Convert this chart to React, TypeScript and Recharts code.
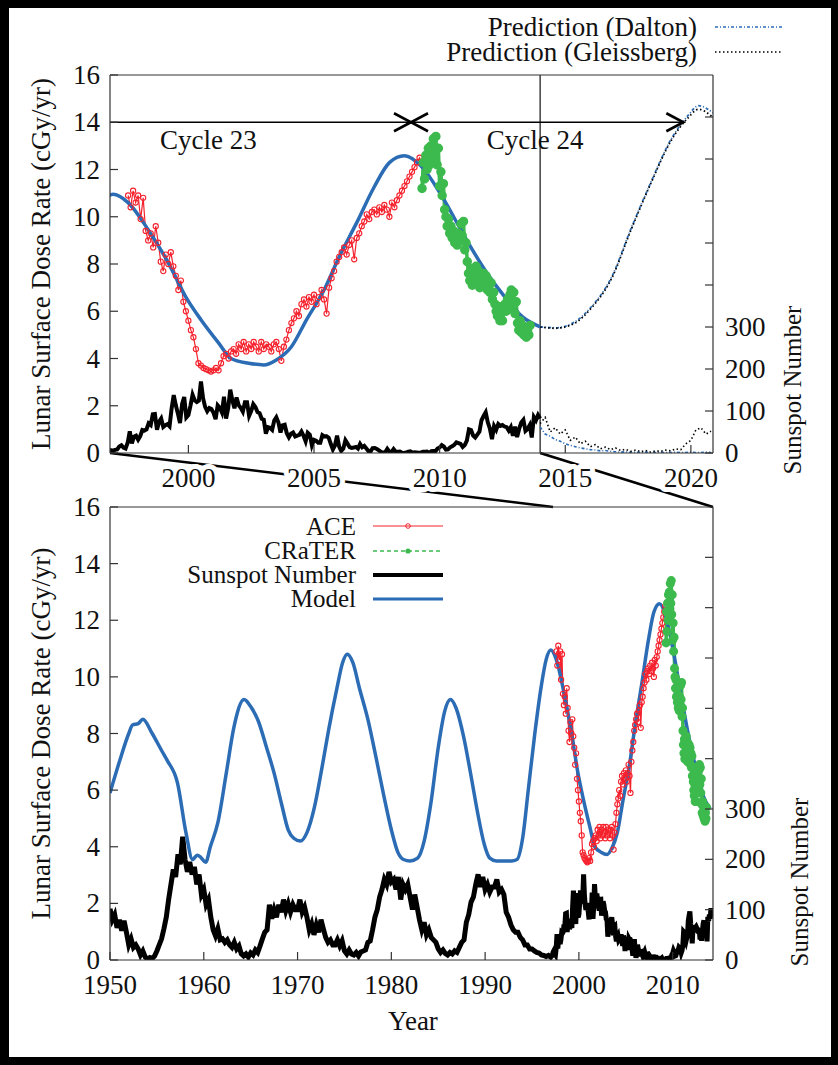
import React from 'react';
import { ComposedChart, Line, Scatter, XAxis, YAxis, ReferenceLine } from 'recharts';

const FONT = '"Liberation Serif", "Times New Roman", serif';
const AXIS = '#333';
const TXT = '#111';
const RED = '#f5222d';
const GREEN = '#3dba4e';
const BLUE = '#2b6cb5';

// sunspot number, quarterly, 1950.00 .. 1996.75
const ssnQuarterlyStart = 1950;
const ssnQuarterly = [
  102, 80, 90, 64, 80, 58, 78, 55, 30, 42, 25, 30, 22, 10, 18, 6, 2, 5, 3, 8,
  18, 30, 42, 62, 85, 120, 150, 180, 165, 210, 190, 245, 200, 175, 195, 170, 185, 150, 170, 130,
  140, 110, 120, 85, 60, 48, 62, 40, 42, 35, 40, 30, 25, 35, 22, 28, 12, 8, 12, 6,
  14, 10, 20, 15, 28, 42, 55, 60, 110, 82, 100, 85, 110, 95, 120, 98, 112, 95, 110, 100,
  100, 120, 95, 105, 85, 60, 72, 50, 70, 55, 80, 62, 45, 35, 40, 30, 30, 40, 28, 38,
  18, 12, 20, 12, 10, 15, 8, 16, 18, 20, 35, 38, 60, 85, 100, 125, 140, 160, 150, 175,
  155, 160, 140, 165, 120, 150, 140, 150, 125, 100, 130, 105, 80, 60, 75, 50, 60, 45, 40, 35,
  22, 15, 20, 13, 10, 15, 12, 18, 15, 25, 35, 40, 75, 90, 115, 125, 150, 170, 145, 165,
  140, 150, 135, 145, 145, 160, 135, 140, 130, 95, 85, 70, 60, 55, 55, 45, 40, 30, 30, 22,
  22, 18, 15, 14, 10, 9, 7, 9,
];

// sunspot number, monthly, 1997-01 .. 2014-04
const ssnMonthlyStart = 1997;
const ssnMonthly = [
  5.7, 7.6, 8.7, 15.5, 18.5, 12.7, 10.4, 24.4, 51.3, 22.8, 39.0, 41.2,
  31.9, 40.3, 54.8, 53.4, 56.3, 70.7, 66.6, 92.2, 92.9, 55.5, 74.0, 81.9,
  62.0, 66.3, 68.8, 63.7, 106.4, 137.7, 113.5, 93.7, 71.5, 116.7, 133.2, 84.6,
  90.1, 112.9, 138.5, 125.5, 121.6, 124.9, 170.1, 130.5, 109.7, 99.4, 106.8, 104.4,
  95.6, 80.6, 113.5, 107.7, 96.6, 134.0, 81.8, 106.4, 150.7, 125.5, 106.5, 132.2,
  114.1, 107.4, 98.4, 120.7, 120.8, 88.3, 99.6, 116.4, 109.6, 97.5, 95.0, 81.6,
  79.5, 46.2, 61.5, 60.0, 55.2, 77.4, 85.0, 72.7, 48.8, 65.6, 67.2, 47.0,
  37.2, 46.0, 48.9, 39.3, 41.5, 43.2, 51.1, 40.9, 27.7, 48.0, 43.5, 17.9,
  31.3, 29.2, 24.5, 24.4, 42.6, 39.6, 39.9, 36.4, 22.1, 8.5, 18.0, 41.2,
  15.3, 4.9, 10.6, 30.2, 22.3, 13.9, 12.2, 12.9, 14.4, 10.5, 21.4, 13.6,
  16.8, 10.7, 4.5, 3.4, 11.7, 12.1, 9.7, 6.0, 2.4, 0.9, 1.7, 10.1,
  3.3, 2.1, 9.3, 2.9, 3.2, 3.4, 0.5, 0.0, 1.1, 2.9, 4.1, 0.8,
  1.5, 1.4, 0.7, 0.8, 2.9, 2.9, 3.2, 0.0, 4.3, 4.8, 4.1, 10.8,
  13.2, 18.8, 15.4, 8.0, 8.7, 13.6, 16.1, 19.6, 25.2, 23.5, 21.6, 14.5,
  19.0, 29.4, 56.2, 54.4, 41.6, 37.0, 43.8, 50.6, 78.0, 88.0, 96.7, 73.0,
  58.3, 33.1, 64.2, 55.2, 69.0, 64.5, 66.5, 63.0, 61.4, 53.3, 61.8, 40.8,
  62.9, 38.1, 57.9, 72.4, 78.7, 52.5, 57.0, 66.0, 37.0, 85.6, 77.6, 90.3,
  82.0, 102.8, 92.2, 84.7,
];

// ACE dose rate, every 0.1 yr from 1997.6
const aceStart = 1997.6;
const aceStep = 0.1;
const aceDose = [
  10.9, 10.4, 11.1, 10.6,
  10.9, 9.9, 10.8, 9.4, 9.0, 9.3, 8.7, 9.6, 8.9, 8.1,
  7.7, 8.4, 8.0, 8.5, 7.9, 7.5, 6.9, 7.3, 6.4, 6.0,
  5.6, 5.2, 4.9, 4.4, 3.8, 3.7, 3.6, 3.55, 3.5, 3.45,
  3.5, 3.6, 3.5, 3.8, 4.1, 4.2, 4.0, 4.3, 4.4, 4.2,
  4.6, 4.4, 4.7, 4.3, 4.6, 4.4, 4.7, 4.5, 4.3, 4.7,
  4.4, 4.6, 4.5, 4.3, 4.6, 4.7, 4.4, 3.9, 4.5, 4.8,
  5.2, 5.5, 5.7, 6.0, 5.8, 6.3, 6.5, 6.2, 6.6, 6.4,
  6.7, 6.3, 6.6, 6.9, 6.5, 5.9, 7.0, 7.4, 7.7, 8.1,
  8.3, 8.5, 8.7, 8.4, 8.8, 9.0, 8.2, 9.1, 9.3, 9.6,
  9.8, 10.1, 9.9, 10.2, 10.3, 10.1, 10.4, 10.2, 10.5, 10.3,
  10.0, 10.6, 10.4, 10.7, 10.9, 11.1, 11.3, 11.5, 11.7, 11.9,
  12.1, 12.3, 12.5, 12.3,
];

// CRaTER dose rate, every 0.05 yr from 2009.30
const craterStart = 2009.3;
const craterStep = 0.05;
const craterDose = [
  11.2, 12.3, 11.6, 12.6, 12.0, 12.9, 12.2, 13.0, 12.4, 13.3, 12.6, 13.4, 12.2, 12.9,
  11.3, 11.9, 10.9, 11.4, 10.3, 10.0, 9.6, 9.9, 9.3, 9.6, 9.1, 9.4, 8.9, 9.2, 8.8, 9.3, 9.0, 9.7, 9.2, 9.8,
  8.6, 8.9, 8.1, 7.6, 7.3, 7.8, 7.1, 7.6, 7.3, 7.9, 7.2, 7.7, 7.0, 7.5, 7.2, 7.6, 7.1, 7.5, 6.9, 7.3,
  6.8, 7.2, 6.5, 6.8, 6.3, 6.0, 5.8, 6.2, 5.6, 5.9, 5.6, 6.1, 6.3, 6.0, 6.5, 6.1, 6.7, 6.9, 6.2, 6.8,
  5.9, 6.4, 5.5, 5.2, 5.6, 5.1, 5.4, 5.0, 5.3, 4.9, 5.2, 5.0, 5.4,
];

// model dose rate
const modelYears = [
  1950.0, 1951.0, 1952.0, 1952.4, 1953.0, 1953.5, 1954.5, 1955.5, 1956.1, 1957.2,
  1958.1, 1958.8, 1959.3, 1959.7, 1960.2, 1960.7, 1961.5, 1962.4, 1963.2, 1964.3,
  1965.0, 1965.8, 1966.7, 1967.5, 1968.3, 1969.0, 1969.6, 1970.3, 1971.0, 1971.8,
  1972.5, 1973.3, 1974.2, 1974.8, 1975.3, 1975.9, 1976.6, 1977.5, 1978.4, 1979.2,
  1980.0, 1980.7, 1981.3, 1982.0, 1982.8, 1983.5, 1984.2, 1985.0, 1985.7, 1986.3,
  1986.9, 1987.7, 1988.5, 1989.2, 1989.9, 1990.5, 1991.2, 1992.0, 1992.8, 1993.4,
  1994.0, 1994.6, 1995.3, 1996.0, 1996.5, 1997.0, 1997.6, 1998.4, 1999.2, 1999.9,
  2000.5, 2001.2, 2001.7, 2002.4, 2003.0, 2003.5, 2004.1, 2004.7, 2005.4, 2006.0,
  2006.7, 2007.4, 2008.0, 2008.6, 2009.3, 2010.1, 2011.0, 2011.8, 2012.6, 2013.3,
  2014.0,
];
const modelDose = [
  5.9, 7.0, 8.0, 8.3, 8.35, 8.5, 8.0, 7.4, 7.05, 6.25,
  4.5, 3.55, 3.7, 3.62, 3.45, 4.0, 4.85, 6.6, 8.2, 9.2,
  8.95, 8.45, 7.5, 6.6, 5.5, 4.6, 4.3, 4.2, 4.5, 5.4,
  6.6, 8.1, 9.6, 10.5, 10.8, 10.5, 9.6, 8.5, 7.1, 5.8,
  4.6, 3.8, 3.55, 3.5, 3.6, 4.2, 5.5, 7.5, 8.8, 9.2,
  8.9, 7.9, 6.5, 5.2, 4.1, 3.6, 3.5, 3.5, 3.5, 3.55,
  4.3, 6.0, 8.0, 9.7, 10.6, 10.95, 10.6, 9.45, 8.05, 6.6,
  5.64, 4.66, 4.0, 3.8, 3.73, 3.94, 4.5, 5.64, 6.9, 8.3,
  9.75, 11.27, 12.29, 12.58, 12.1, 10.85, 9.15, 7.75, 6.6, 5.76,
  5.34,
];

// predictions after 2014
const predYears = [2014.0, 2014.6, 2015.3, 2016.05, 2016.85, 2017.6, 2018.4, 2019.2, 2019.9, 2020.3, 2020.88];
const daltonDose = [5.34, 5.3, 5.5, 6.2, 7.45, 9.45, 11.44, 13.26, 14.3, 14.7, 14.4];
const gleissbergDose = [5.34, 5.28, 5.45, 6.15, 7.4, 9.4, 11.4, 13.2, 14.2, 14.55, 14.2];

const predSsnStart = 2014;
const predSsnStep = 0.2;
const daltonSsn = [62, 45, 40, 32, 28, 22, 18, 15, 12, 10, 8, 7, 5, 6, 4, 3, 2, 3, 1, 2, 1, 2, 1, 1, 2, 1, 1, 2, 1, 1, 2, 1, 1, 2, 1];
const gleissbergSsn = [70, 85, 50, 60, 45, 55, 30, 38, 22, 28, 15, 20, 10, 14, 8, 12, 6, 9, 4, 7, 3, 6, 2, 5, 4, 7, 5, 10, 8, 22, 30, 55, 60, 45, 52];

// cycle annotations
const cycleBoundary = 2008.86;
const cycleArrowEnd = 2019.7;
const cycleArrowLevel = 14;
const cycleLabels = [
  { x: 2000.8, y: 13.26, label: 'Cycle 23' },
  { x: 2013.8, y: 13.26, label: 'Cycle 24' },
];

const topDomain = [1996.88, 2020.88];
const bottomDomain = [1950, 2014.3];
const topYearTicks = [2000, 2005, 2010, 2015, 2020];
const bottomYearTicks = [1950, 1960, 1970, 1980, 1990, 2000, 2010];
const doseTicks = [0, 2, 4, 6, 8, 10, 12, 14, 16];
const ssnTicks = [0, 100, 200, 300, 400, 500, 600, 700, 800];
const ssnLabelMax = 300;
const splitYear = 2014;

const stepPts = (start: number, step: number, ys: number[]) =>
  ys.map((y, i) => ({ x: +(start + i * step).toFixed(4), y }));
const pts = (xs: number[], ys: number[]) => xs.map((x, i) => ({ x, y: ys[i] }));

const sunspot = [
  ...stepPts(ssnQuarterlyStart, 0.25, ssnQuarterly),
  ...stepPts(ssnMonthlyStart, 1 / 12, ssnMonthly),
];
const sunspotTop = sunspot.filter((p) => p.x >= 1996.7 && p.x <= splitYear);
const ace = stepPts(aceStart, aceStep, aceDose);
const crater = stepPts(craterStart, craterStep, craterDose);
const model = pts(modelYears, modelDose);
const modelTop = model.filter((p) => p.x >= 1996.4);
const daltonModel = pts(predYears, daltonDose);
const gleissbergModel = pts(predYears, gleissbergDose);
const daltonSpots = stepPts(predSsnStart, predSsnStep, daltonSsn);
const gleissbergSpots = stepPts(predSsnStart, predSsnStep, gleissbergSsn);
const arrowLine = [
  { x: topDomain[0], y: cycleArrowLevel },
  { x: cycleArrowEnd, y: cycleArrowLevel },
];
const arrowHeads = [
  { x: cycleBoundary, y: cycleArrowLevel, dir: 1 },
  { x: cycleBoundary, y: cycleArrowLevel, dir: -1 },
  { x: cycleArrowEnd, y: cycleArrowLevel, dir: 1 },
];

// plot geometry (page pixels)
const PLOT_L = 110;
const PLOT_R = 713;
const TOP_T = 75;
const TOP_B = 453;
const BOT_T = 507;
const BOT_B = 960;
const TICK_FS = 27;

function BottomTick(props: any) {
  const { x, y, payload, halo } = props;
  return (
    <g>
      <line x1={x} y1={y} x2={x} y2={y - 8} stroke={AXIS} strokeWidth={1.2} />
      <text
        x={x}
        y={y + 34}
        textAnchor="middle"
        fontFamily={FONT}
        fontSize={TICK_FS}
        fill={TXT}
        stroke={halo ? '#fff' : 'none'}
        strokeWidth={halo ? 10 : 0}
        strokeLinejoin="round"
        paintOrder="stroke"
      >
        {payload.value}
      </text>
    </g>
  );
}

function TopTick(props: any) {
  const { x, y } = props;
  return <line x1={x} y1={y} x2={x} y2={y + 8} stroke={AXIS} strokeWidth={1.2} />;
}

function LeftTick(props: any) {
  const { x, y, payload } = props;
  return (
    <g>
      <line x1={x} y1={y} x2={x + 8} y2={y} stroke={AXIS} strokeWidth={1.2} />
      <text x={x - 10} y={y + 9} textAnchor="end" fontFamily={FONT} fontSize={TICK_FS} fill={TXT}>
        {payload.value}
      </text>
    </g>
  );
}

function RightTick(props: any) {
  const { x, y, payload } = props;
  return (
    <g>
      <line x1={x} y1={y} x2={x - 8} y2={y} stroke={AXIS} strokeWidth={1.2} />
      {payload.value <= ssnLabelMax && (
        <text x={x + 12} y={y + 9} textAnchor="start" fontFamily={FONT} fontSize={TICK_FS} fill={TXT}>
          {payload.value}
        </text>
      )}
    </g>
  );
}

function ArrowHead(props: any) {
  const { cx, cy, payload } = props;
  const d = payload.dir;
  return (
    <path
      d={`M${cx - d * 17},${cy - 9} L${cx},${cy} L${cx - d * 17},${cy + 9}`}
      stroke="#000"
      strokeWidth={2.6}
      fill="none"
    />
  );
}

function CycleLabel(props: any) {
  const { cx, cy, payload } = props;
  return (
    <text x={cx} y={cy + 9} textAnchor="middle" fontFamily={FONT} fontSize={27} fill={TXT}>
      {payload.label}
    </text>
  );
}

const aceDot = { r: 2.6, stroke: RED, strokeWidth: 1.1, fill: 'none' };

function TopPanel() {
  return (
    <ComposedChart width={838} height={500} margin={{ top: 55, right: 0, bottom: 7, left: 0 }}>
      <XAxis
        xAxisId="x"
        dataKey="x"
        type="number"
        domain={topDomain}
        allowDataOverflow
        ticks={topYearTicks}
        interval={0}
        tickSize={0}
        tickMargin={0}
        height={40}
        axisLine={{ stroke: AXIS, strokeWidth: 1.2 }}
        tick={(p: any) => <BottomTick {...p} halo />}
      />
      <XAxis
        xAxisId="xt"
        orientation="top"
        type="number"
        domain={topDomain}
        allowDataOverflow
        ticks={topYearTicks}
        interval={0}
        tickSize={0}
        tickMargin={0}
        height={20}
        axisLine={{ stroke: AXIS, strokeWidth: 1.2 }}
        tick={(p: any) => <TopTick {...p} />}
      />
      <YAxis
        yAxisId="dose"
        dataKey="y"
        type="number"
        domain={[0, 16]}
        allowDataOverflow
        ticks={doseTicks}
        interval={0}
        tickSize={0}
        tickMargin={0}
        width={110}
        axisLine={{ stroke: AXIS, strokeWidth: 1.2 }}
        tick={(p: any) => <LeftTick {...p} />}
      />
      <YAxis
        yAxisId="ssn"
        orientation="right"
        type="number"
        domain={[0, 900]}
        allowDataOverflow
        ticks={ssnTicks}
        interval={0}
        tickSize={0}
        tickMargin={0}
        width={125}
        axisLine={{ stroke: AXIS, strokeWidth: 1.2 }}
        tick={(p: any) => <RightTick {...p} />}
      />
      <ReferenceLine xAxisId="x" yAxisId="dose" x={splitYear} stroke={AXIS} strokeWidth={1.4} />
      <Line xAxisId="x" yAxisId="ssn" data={sunspotTop} dataKey="y" type="linear" stroke="#000" strokeWidth={4} dot={false} activeDot={false} isAnimationActive={false} />
      <Line xAxisId="x" yAxisId="ssn" data={daltonSpots} dataKey="y" type="linear" stroke={BLUE} strokeWidth={1.6} strokeDasharray="3 2 1 2" dot={false} activeDot={false} isAnimationActive={false} />
      <Line xAxisId="x" yAxisId="ssn" data={gleissbergSpots} dataKey="y" type="linear" stroke="#000" strokeWidth={1.6} strokeDasharray="1.5 2.5" dot={false} activeDot={false} isAnimationActive={false} />
      <Line xAxisId="x" yAxisId="dose" data={arrowLine} dataKey="y" type="linear" stroke="#000" strokeWidth={1.6} dot={false} activeDot={false} isAnimationActive={false} />
      <Scatter xAxisId="x" yAxisId="dose" data={arrowHeads} dataKey="y" shape={ArrowHead} isAnimationActive={false} />
      <Scatter xAxisId="x" yAxisId="dose" data={cycleLabels} dataKey="y" shape={CycleLabel} isAnimationActive={false} />
      <Line xAxisId="x" yAxisId="dose" data={ace} dataKey="y" type="linear" stroke={RED} strokeWidth={1.2} dot={aceDot} activeDot={false} isAnimationActive={false} />
      <Line xAxisId="x" yAxisId="dose" data={crater} dataKey="y" type="linear" stroke={GREEN} strokeWidth={3.5} dot={{ r: 3, stroke: GREEN, fill: GREEN }} activeDot={false} isAnimationActive={false} />
      <Line xAxisId="x" yAxisId="dose" data={daltonModel} dataKey="y" type="monotone" stroke={BLUE} strokeWidth={1.8} strokeDasharray="3 2 1 2" dot={false} activeDot={false} isAnimationActive={false} />
      <Line xAxisId="x" yAxisId="dose" data={gleissbergModel} dataKey="y" type="monotone" stroke="#000" strokeWidth={1.8} strokeDasharray="1.5 2.5" dot={false} activeDot={false} isAnimationActive={false} />
      <Line xAxisId="x" yAxisId="dose" data={modelTop} dataKey="y" type="monotone" stroke={BLUE} strokeWidth={3.5} dot={false} activeDot={false} isAnimationActive={false} />
    </ComposedChart>
  );
}

function BottomPanel() {
  return (
    <ComposedChart width={838} height={600} margin={{ top: 27, right: 0, bottom: 60, left: 0 }}>
      <XAxis
        xAxisId="x"
        dataKey="x"
        type="number"
        domain={bottomDomain}
        allowDataOverflow
        ticks={bottomYearTicks}
        interval={0}
        tickSize={0}
        tickMargin={0}
        height={40}
        axisLine={{ stroke: AXIS, strokeWidth: 1.2 }}
        tick={(p: any) => <BottomTick {...p} halo={false} />}
      />
      <XAxis
        xAxisId="xt"
        orientation="top"
        type="number"
        domain={bottomDomain}
        allowDataOverflow
        ticks={bottomYearTicks}
        interval={0}
        tickSize={0}
        tickMargin={0}
        height={20}
        axisLine={{ stroke: AXIS, strokeWidth: 1.2 }}
        tick={(p: any) => <TopTick {...p} />}
      />
      <YAxis
        yAxisId="dose"
        dataKey="y"
        type="number"
        domain={[0, 16]}
        allowDataOverflow
        ticks={doseTicks}
        interval={0}
        tickSize={0}
        tickMargin={0}
        width={110}
        axisLine={{ stroke: AXIS, strokeWidth: 1.2 }}
        tick={(p: any) => <LeftTick {...p} />}
      />
      <YAxis
        yAxisId="ssn"
        orientation="right"
        type="number"
        domain={[0, 900]}
        allowDataOverflow
        ticks={ssnTicks}
        interval={0}
        tickSize={0}
        tickMargin={0}
        width={125}
        axisLine={{ stroke: AXIS, strokeWidth: 1.2 }}
        tick={(p: any) => <RightTick {...p} />}
      />
      <Line xAxisId="x" yAxisId="ssn" data={sunspot} dataKey="y" type="linear" stroke="#000" strokeWidth={5} dot={false} activeDot={false} isAnimationActive={false} />
      <Line xAxisId="x" yAxisId="dose" data={ace} dataKey="y" type="linear" stroke={RED} strokeWidth={1.2} dot={aceDot} activeDot={false} isAnimationActive={false} />
      <Line xAxisId="x" yAxisId="dose" data={crater} dataKey="y" type="linear" stroke={GREEN} strokeWidth={3.5} dot={{ r: 2.8, stroke: GREEN, fill: GREEN }} activeDot={false} isAnimationActive={false} />
      <Line xAxisId="x" yAxisId="dose" data={model} dataKey="y" type="monotone" stroke={BLUE} strokeWidth={3.5} dot={false} activeDot={false} isAnimationActive={false} />
    </ComposedChart>
  );
}

const topX = (yr: number) => PLOT_L + ((yr - topDomain[0]) / (topDomain[1] - topDomain[0])) * (PLOT_R - PLOT_L);

function Connectors() {
  return (
    <svg width={838} height={1065} style={{ position: 'absolute', left: 0, top: 0 }}>
      <line x1={PLOT_L} y1={TOP_B} x2={553} y2={BOT_T} stroke="#000" strokeWidth={2.6} />
      <line x1={topX(splitYear)} y1={TOP_B} x2={PLOT_R} y2={BOT_T} stroke="#000" strokeWidth={2.6} />
    </svg>
  );
}

function Titles() {
  const t = { fontFamily: FONT, fill: TXT } as const;
  return (
    <svg width={838} height={1065} style={{ position: 'absolute', left: 0, top: 0, pointerEvents: 'none' }}>
      <text {...t} fontSize={27} textAnchor="middle" transform={`translate(50,${(TOP_T + TOP_B) / 2}) rotate(-90)`}>
        Lunar Surface Dose Rate (cGy/yr)
      </text>
      <text {...t} fontSize={27} textAnchor="middle" transform={`translate(50,${(BOT_T + BOT_B) / 2}) rotate(-90)`}>
        Lunar Surface Dose Rate (cGy/yr)
      </text>
      <text {...t} fontSize={25} textAnchor="middle" transform={`translate(801,390) rotate(-90)`}>
        Sunspot Number
      </text>
      <text {...t} fontSize={25} textAnchor="middle" transform={`translate(808,882) rotate(-90)`}>
        Sunspot Number
      </text>
      <text {...t} fontSize={27} textAnchor="middle" x={413} y={1030}>
        Year
      </text>

      {/* top legend */}
      <text {...t} fontSize={27} textAnchor="end" x={697} y={36}>Prediction (Dalton)</text>
      <line x1={715} y1={27} x2={783} y2={27} stroke={BLUE} strokeWidth={1.6} strokeDasharray="3 2 1 2" />
      <text {...t} fontSize={27} textAnchor="end" x={697} y={61}>Prediction (Gleissberg)</text>
      <line x1={715} y1={52} x2={783} y2={52} stroke="#000" strokeWidth={1.6} strokeDasharray="1.5 2.5" />

      {/* bottom legend */}
      <text {...t} fontSize={25} textAnchor="end" x={356} y={535}>ACE</text>
      <line x1={373} y1={526} x2={443} y2={526} stroke={RED} strokeWidth={1.2} />
      <circle cx={408} cy={526} r={2.3} stroke={RED} fill="none" />
      <text {...t} fontSize={25} textAnchor="end" x={356} y={559}>CRaTER</text>
      <line x1={373} y1={551} x2={443} y2={551} stroke={GREEN} strokeWidth={1.4} strokeDasharray="4 3" />
      <circle cx={408} cy={551} r={2.6} fill={GREEN} />
      <text {...t} fontSize={25} textAnchor="end" x={356} y={583}>Sunspot Number</text>
      <line x1={373} y1={575} x2={443} y2={575} stroke="#000" strokeWidth={4} />
      <text {...t} fontSize={25} textAnchor="end" x={356} y={607}>Model</text>
      <line x1={373} y1={599} x2={443} y2={599} stroke={BLUE} strokeWidth={3} />
    </svg>
  );
}

export default function App() {
  return (
    <div style={{ position: 'absolute', left: 0, top: 0, width: 838, height: 1065, background: '#000' }}>
      <div style={{ position: 'absolute', left: 9, top: 8, width: 822, height: 1049, background: '#fff' }} />
      <Connectors />
      <div style={{ position: 'absolute', left: 0, top: 0 }}>
        <TopPanel />
      </div>
      <div style={{ position: 'absolute', left: 0, top: 460 }}>
        <BottomPanel />
      </div>
      <Titles />
    </div>
  );
}
